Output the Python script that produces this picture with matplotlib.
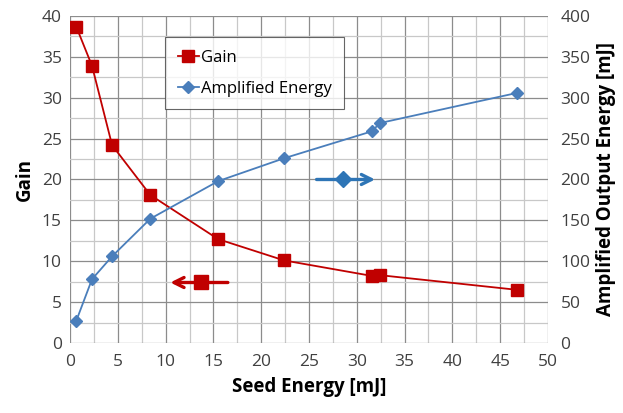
import numpy as np
import matplotlib.pyplot as plt
from matplotlib.ticker import MultipleLocator

plt.rcParams['font.family'] = ['Open Sans', 'DejaVu Sans']

# datos
seed = [0.65, 2.3, 4.4, 8.4, 15.5, 22.4, 31.6, 32.4, 46.8]
gain = [38.7, 33.9, 24.2, 18.1, 12.7, 10.1, 8.2, 8.3, 6.5]
energia = [27, 78, 106, 152, 198, 226, 259, 269, 306]

rojo = '#c00000'
azul = '#4a7ebb'

fig = plt.figure(figsize=(6.23, 4.13), dpi=100)
ax = fig.add_axes([0.1124, 0.1695, 0.7672, 0.7918])
ax2 = ax.twinx()

ax.set_xlim(0, 50)
ax.set_ylim(0, 40)
ax2.set_ylim(0, 400)
ax.xaxis.set_major_locator(MultipleLocator(5))
ax.xaxis.set_minor_locator(MultipleLocator(2.5))
ax.yaxis.set_major_locator(MultipleLocator(5))
ax.yaxis.set_minor_locator(MultipleLocator(2.5))
ax2.yaxis.set_major_locator(MultipleLocator(50))
ax.grid(which='major', color='#8c8c8c', lw=0.9)
ax.grid(which='minor', color='#c8c8c8', lw=0.9)
ax.set_axisbelow(True)

for a in (ax, ax2):
    for s in a.spines.values():
        s.set_visible(False)
    a.tick_params(which='both', length=0, labelsize=12.5, colors='#404040')
ax.tick_params(axis='x', pad=8)
ax.tick_params(axis='y', pad=6)
ax2.tick_params(axis='y', pad=9)

l1, = ax.plot(seed, gain, color=rojo, lw=1.3, marker='s', ms=8, label='Gain')
l2, = ax2.plot(seed, energia, color=azul, lw=1.3, marker='D', ms=6, label='Amplified Energy')

# flechas que indican el eje de cada serie
ax.annotate('', xy=(10.2, 7.4), xytext=(16.8, 7.4),
            arrowprops=dict(arrowstyle='->', color=rojo, lw=2.4, mutation_scale=18))
ax.plot([13.7], [7.4], marker='s', color=rojo, ms=10)
ax2.annotate('', xy=(32.2, 200), xytext=(25.5, 200),
             arrowprops=dict(arrowstyle='->', color='#2e75b6', lw=2.4, mutation_scale=18))
ax2.plot([28.6], [200], marker='D', color='#2e75b6', ms=8)

ax.set_xlabel('Seed Energy [mJ]', fontsize=13.5, fontweight='bold', labelpad=5)
ax.set_ylabel('Gain', fontsize=13.5, fontweight='bold', labelpad=5)
ax2.set_ylabel('Amplified Output Energy [mJ]', fontsize=13.5, fontweight='bold', labelpad=4)

leg = ax.legend(handles=[l1, l2], loc='upper left', bbox_to_anchor=(0.199, 0.935),
                borderaxespad=0, fontsize=12, frameon=True, fancybox=False,
                edgecolor='#404040', handlelength=1.3, handletextpad=0.1,
                borderpad=0.75, labelspacing=0.9)
leg.get_frame().set_linewidth(0.8)

fig.savefig('out.png', dpi=100)
